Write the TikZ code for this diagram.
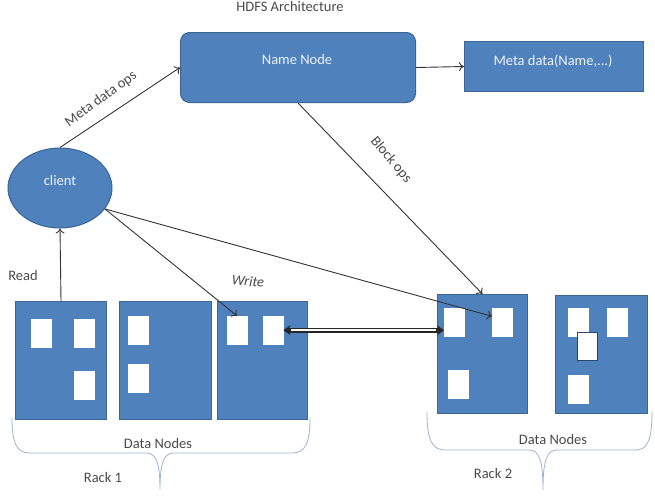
\documentclass[tikz,border=0pt]{standalone}
\usepackage{fontspec}
\setmainfont{Carlito}
\usetikzlibrary{arrows.meta,shapes.geometric}
\definecolor{nodeblue}{HTML}{4F81BD}
\definecolor{nodeedge}{HTML}{3A6595}
\definecolor{labelgray}{HTML}{4A4A4A}
\definecolor{bracecol}{HTML}{9DB3CF}
\definecolor{boxtext}{HTML}{EEF3FA}
\begin{document}
\begin{tikzpicture}[x=1pt,y=-1pt,
  every node/.style={font=\fontsize{14.5}{17}\selectfont},
  boxnode/.style={draw=nodeedge, fill=nodeblue, line width=1pt, inner sep=0pt},
  datanode/.style={boxnode, anchor=north west, minimum height=118pt},
  blk/.style={draw=white, fill=white, line width=0.4pt, minimum width=20pt, minimum height=28pt, inner sep=0pt, anchor=north west},
  intext/.style={text=boxtext},
  lbl/.style={text=labelgray},
  conn/.style={draw=black!80, line width=0.9pt, -{To[length=5pt,width=9pt]}},
  bracepath/.style={draw=bracecol, line width=0.8pt},
]
\useasboundingbox (0,0) rectangle (655,496);

% title
\node[lbl] (title) at (290,7) {HDFS Architecture};

% name node and metadata
\node[boxnode, rounded corners=9pt, minimum width=235pt, minimum height=70pt, anchor=north west] (nn) at (180,32) {};
\node[intext] (nnt) at (297,60) {Name Node};
\node[boxnode, minimum width=179pt, minimum height=50pt, anchor=north west] (meta) at (464,41) {};
\node[intext] (metat) at (553,61) {Meta data(Name,...)};

% client
\node[boxnode, ellipse, minimum width=104pt, minimum height=80pt] (client) at (60,188) {};
\node[intext] (clientt) at (60,181) {client};

% data nodes rack 1
\node[datanode, minimum width=91pt] (d1) at (15,301) {};
\node[datanode, minimum width=92pt] (d2) at (119,301) {};
\node[datanode, minimum width=90pt] (d3) at (217,301) {};
% data nodes rack 2
\node[datanode, minimum width=90pt, minimum height=119pt] (d4) at (437,294) {};
\node[datanode, minimum width=92pt] (d5) at (555,295) {};

% blocks
\node[blk] (b11) at (31,319) {};
\node[blk] (b12) at (74,319) {};
\node[blk] (b13) at (74,371) {};
\node[blk] (b21) at (128,316) {};
\node[blk] (b22) at (128,364) {};
\node[blk] (b31) at (227,316) {};
\node[blk] (b32) at (263,316) {};
\node[blk] (b41) at (444,308) {};
\node[blk] (b42) at (492,308) {};
\node[blk] (b43) at (448,370) {};
\node[blk] (b51) at (568,308) {};
\node[blk] (b52) at (607,308) {};
\node[blk, draw=nodeedge!70!black] (b53) at (577,332) {};
\node[blk] (b54) at (568,375) {};

% connectors
\draw[conn] (client.north) -- (nn.west);
\node[lbl, rotate=36] (mdo) at (101,99) {Meta data ops};
\draw[conn] (nn.east) -- (meta.west);
\draw[conn] (nn.south) -- (d4.north);
\node[lbl, rotate=-50] (bops) at (391,160) {Block ops};
\draw[conn] (d1.north) -- (client.south);
\node[lbl] (read) at (23,276) {Read};
\draw[conn] (client.-25) -- (b31.north);
\node[lbl, rotate=-6] (write) at (248,281) {\itshape Write};
\draw[conn] (client.-25) -- (b42.150);

% replication pipe
\draw[line width=5pt, black!85, {Stealth[length=7pt,width=10pt]}-{Stealth[length=7pt,width=10pt]}] (b32.east) -- (b32.east -| b41.west);
\draw[white, line width=2pt, shorten <=8pt, shorten >=8pt] (b32.east) -- (b32.east -| b41.west);

% braces
\draw[bracepath] (12,418) .. controls (12,442) and (16,453) .. (30,453) -- (146,453)
  .. controls (156,453) and (160,462) .. (160,490)
  .. controls (160,462) and (164,453) .. (174,453) -- (292,453)
  .. controls (306,453) and (310,442) .. (310,418);
\node[lbl] (dn1) at (158,444) {Data Nodes};
\node[lbl] (rack1) at (103,478) {Rack 1};

\draw[bracepath] (427,412) .. controls (427,438) and (431,450) .. (445,450) -- (529,450)
  .. controls (539,450) and (543,460) .. (543,490)
  .. controls (543,460) and (547,450) .. (557,450) -- (636,450)
  .. controls (648,450) and (652,438) .. (652,412);
\node[lbl] (dn2) at (553,440) {Data Nodes};
\node[lbl] (rack2) at (493,474) {Rack 2};
\end{tikzpicture}
\end{document}
